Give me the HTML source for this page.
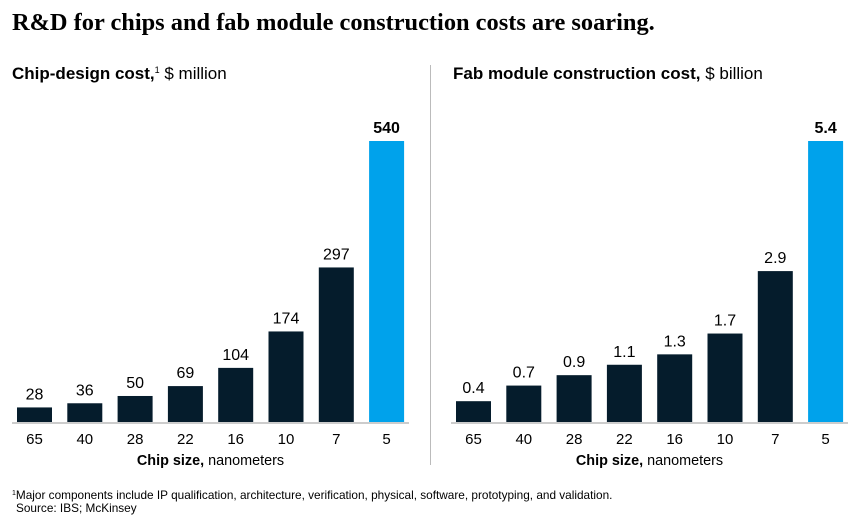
<!DOCTYPE html>
<html><head><meta charset="utf-8"><style>
body{margin:0;background:#fff;width:862px;height:524px;overflow:hidden}
svg{display:block}
text{font-family:"Liberation Sans",sans-serif;fill:#000}
</style></head><body>
<svg width="862" height="524">
<text x="12" y="30" style="font-family:'Liberation Serif',serif;font-weight:bold;font-size:24.4px">R&amp;D for chips and fab module construction costs are soaring.</text>
<text x="12" y="79" font-size="17"><tspan font-weight="bold">Chip-design cost,</tspan><tspan font-size="9" dy="-6">1</tspan><tspan dy="6"> $ million</tspan></text>
<text x="453" y="79" font-size="17"><tspan font-weight="bold">Fab module construction cost,</tspan> $ billion</text>
<line x1="430.5" y1="65" x2="430.5" y2="465" stroke="#bbb" stroke-width="1"/>
<g id="left"></g>
<g id="right"></g>
<text x="12" y="499" font-size="11.8"><tspan font-size="7" dy="-4">1</tspan><tspan dy="4">Major components include IP qualification, architecture, verification, physical, software, prototyping, and validation.</tspan></text>
<text x="16" y="512" font-size="11.8">Source: IBS; McKinsey</text>
</svg>
<script>
const categories = ["65","40","28","22","16","10","7","5"];
const designCost = [28,36,50,69,104,174,297,540];
const designLabels = ["28","36","50","69","104","174","297","540"];
const fabCost = [0.4,0.7,0.9,1.1,1.3,1.7,2.9,5.4];
const fabLabels = ["0.4","0.7","0.9","1.1","1.3","1.7","2.9","5.4"];
const NS="http://www.w3.org/2000/svg";
function mk(tag,attrs,parent){const e=document.createElementNS(NS,tag);for(const k in attrs)e.setAttribute(k,attrs[k]);parent.appendChild(e);return e;}
function draw(g,vals,labels,maxV,x0,axisX1,axisX2){
  const base=422, top=141, pitch=50.3, bw=35;
  const y=v=>base-(v/maxV)*(base-top);
  const x=i=>x0+i*pitch;
  const ax=mk('line',{x1:axisX1,x2:axisX2,y1:423,y2:423,stroke:'#bbb','stroke-width':1.5},g);
  
  
  vals.forEach((v,i)=>{
    const last=i===vals.length-1;
    const r=mk('rect',{x:x(i),y:y(v),width:bw,height:base-y(v),fill:last?'#00a2eb':'#051c2c'},g);
    
    
    const t=mk('text',{x:x(i)+bw/2,y:y(v)-8,'text-anchor':'middle','font-size':16,'font-weight':last?'bold':'normal'},g);
    t.textContent=labels[i];
    
    
    const c=mk('text',{x:x(i)+bw/2,y:444,'text-anchor':'middle','font-size':15},g);
    c.textContent=categories[i];
    
    
  });
  const at=mk('text',{x:(axisX1+axisX2)/2,y:465,'text-anchor':'middle','font-size':14.4},g);
  at.innerHTML='<tspan font-weight="bold">Chip size,</tspan> nanometers';
  
  
}
draw(document.getElementById('left'),designCost,designLabels,540,17,12,409);
draw(document.getElementById('right'),fabCost,fabLabels,5.4,456,451,848);
</script>
</body></html>
